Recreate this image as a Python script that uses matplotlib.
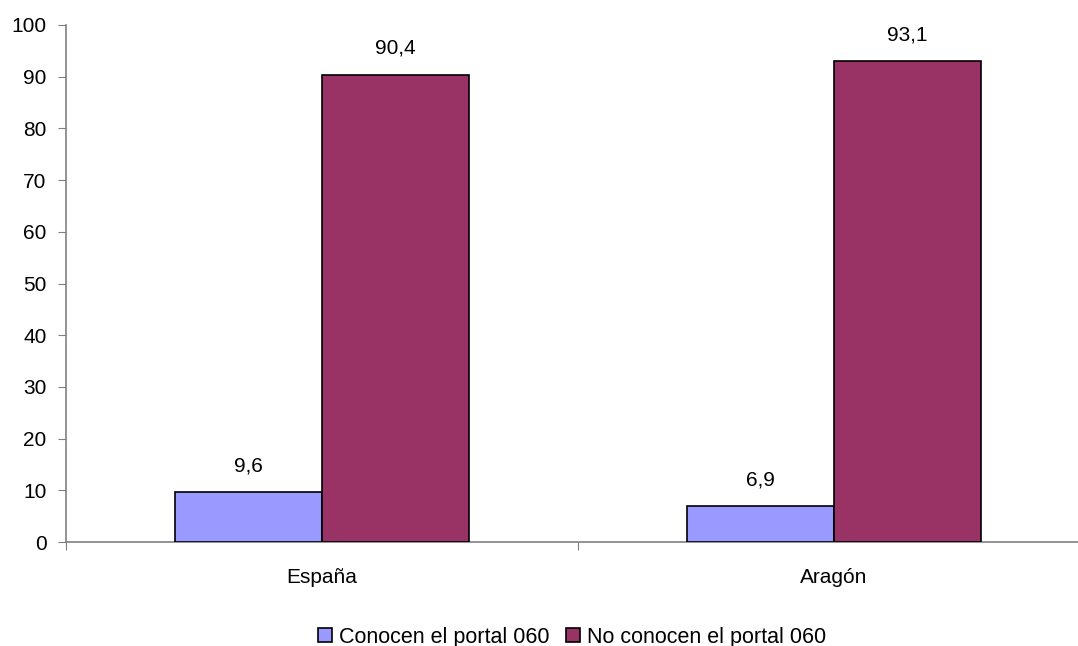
import matplotlib
matplotlib.use('Agg')
import matplotlib.pyplot as plt
import numpy as np

# Datos
categorias = ['España', 'Aragón']
series = ['Conocen el portal 060', 'No conocen el portal 060']
conocen = [9.6, 6.9]
no_conocen = [90.4, 93.1]
colores = ['#9999FF', '#993366']

plt.rcParams['font.family'] = ['Liberation Sans', 'DejaVu Sans']
fs = 15

fig = plt.figure(figsize=(10.78, 6.46), dpi=100)
ax = fig.add_axes([66 / 1078, 1 - 542 / 646, 1024 / 1078, 517 / 646])

x = np.arange(len(categorias))
ancho = 0.287
for i, (valores, nombre) in enumerate(zip([conocen, no_conocen], series)):
    pos = x + (i - 0.5) * ancho
    ax.bar(pos, valores, ancho, color=colores[i], edgecolor='black',
           linewidth=1.2, label=nombre, zorder=3)
    # etiquetas de valor con coma decimal
    for p, v in zip(pos, valores):
        ax.annotate(f'{v:.1f}'.replace('.', ','), (p, v), xytext=(0, 12),
                    textcoords='offset points', ha='center', va='bottom',
                    fontsize=fs)

ax.set_xlim(-0.5, 1.5)
ax.set_ylim(0, 100)
ax.set_yticks(range(0, 101, 10))
ax.set_xticks([-0.5, 0.5, 1.5])
ax.set_xticklabels([])
ax.set_xticks(x, minor=True)
ax.set_xticklabels(categorias, minor=True)
ax.tick_params(axis='x', which='minor', length=0, pad=19, labelsize=fs)
ax.tick_params(axis='x', which='major', length=6, direction='out', color='#808080')
ax.tick_params(axis='y', length=6, direction='out', color='#808080', labelsize=fs, pad=8)

for lado in ['top', 'right']:
    ax.spines[lado].set_visible(False)
for lado in ['left', 'bottom']:
    ax.spines[lado].set_color('#808080')
    ax.spines[lado].set_linewidth(1.2)

fig.legend(loc='center', bbox_to_anchor=(572 / 1078, 1 - 637 / 646), ncol=2,
           frameon=False, fontsize=15.5, handlelength=0.65, handleheight=0.65,
           handletextpad=0.3, columnspacing=0.8)

fig.savefig('out.png', dpi=100)
